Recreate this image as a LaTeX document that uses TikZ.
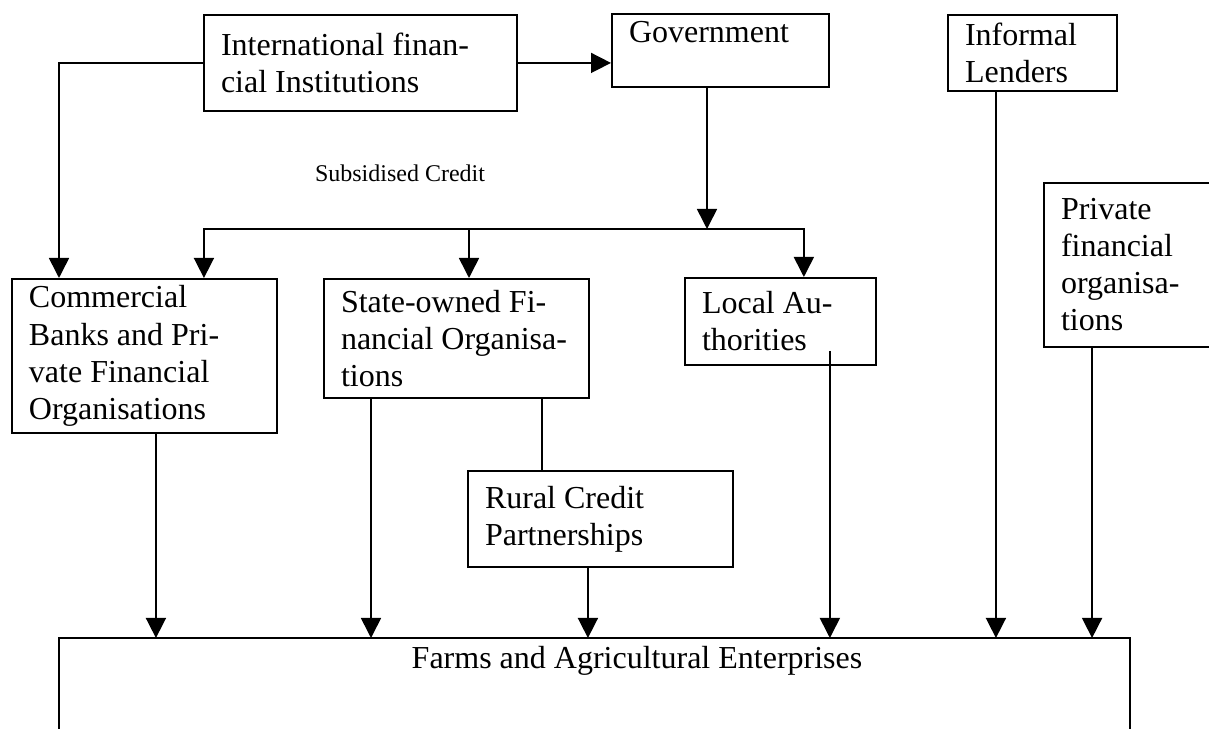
\documentclass[tikz,border=0pt]{standalone}
\usepackage{fontspec}
\setmainfont{Liberation Serif}
\usetikzlibrary{arrows.meta}
\tikzset{>={Triangle[length=7.5pt,width=7.5pt]}}
\tikzset{
  org/.style={draw, line width=0.7pt, anchor=north west, align=flush left,
    inner xsep=6.4pt, inner ysep=0pt,
    font=\fontsize{12}{13.9}\selectfont},
  flow/.style={->, line width=0.6pt},
  link/.style={line width=0.6pt}
}

\begin{document}
\begin{tikzpicture}[x=0.375pt,y=-0.375pt]
  \useasboundingbox (0,0) rectangle (1209,729);
  \node[org,text width=104.6pt,minimum height=36pt] (intl) at (203,14)
    {International finan-\\cial Institutions};
  \node[org,text width=68.6pt,minimum height=27.4pt] (gov) at (611,13)
    {Government\\\mbox{}};
  \node[org,text width=50.6pt,minimum height=28.5pt] (inform) at (947,14)
    {Informal\\Lenders};
  \node[org,text width=54.7pt,minimum height=61.5pt] (priv) at (1043,182)
    {Private\\financial\\organisa-\\tions};
  \node[org,text width=86.6pt,minimum height=57.75pt] (comm) at (11,278)
    {Commercial\\Banks and Pri-\\vate Financial\\Organisations};
  \node[org,text width=86.6pt,minimum height=44.6pt] (state) at (323,278)
    {State-owned Fi-\\nancial Organisa-\\tions};
  \node[org,text width=58.8pt,minimum height=32.6pt] (local) at (684,277)
    {Local Au-\\thorities};
  \node[org,text width=86.6pt,minimum height=36pt] (rural) at (467,470)
    {Rural Credit\\Partnerships};
  \node[font=\fontsize{12}{13.9}\selectfont] (farms) at (637,661)
    {Farms and Agricultural Enterprises};
  \node[font=\fontsize{9}{10.5}\selectfont] (subsid) at (400,173) {Subsidised Credit};

  \coordinate (split) at (707,229);
  \coordinate (fnw) at (59,638);
  \coordinate (fne) at (1130,638);
  \draw[line width=0.7pt] (fnw) ++(0,120) -- (fnw) -- (fne) -- ++(0,120);

  \draw[flow] (intl.east) -- (intl.east -| gov.west);
  \draw[flow] (intl.west) -| ([xshift=18pt]comm.north west);
  \draw[flow] (gov.south -| split) -- (split);
  \draw[flow] (split) -| ([xshift=22.3pt]comm.north);
  \draw[flow] (split) -| ([xshift=8.8pt]local.north);
  \draw[flow] ([xshift=4.7pt]state.north |- split) -- ([xshift=4.7pt]state.north);

  \draw[flow] ([xshift=4.3pt]comm.south) -- ([xshift=4.3pt]comm.south |- fnw);
  \draw[flow] ([xshift=18pt]state.south west) -- ([xshift=18pt]state.south west |- fnw);
  \draw[link] ([xshift=-18pt]state.south east) -- ([xshift=-18pt]state.south east |- rural.north);
  \draw[flow] ([xshift=-4.7pt]rural.south) -- ([xshift=-4.7pt]rural.south |- fnw);
  \draw[flow] ([xshift=-17.6pt,yshift=5.6pt]local.south east) -- ([xshift=-17.6pt]local.south east |- fnw);
  \draw[flow] ([xshift=-13.7pt]inform.south) -- ([xshift=-13.7pt]inform.south |- fnw);
  \draw[flow] ([xshift=18.4pt]priv.south west) -- ([xshift=18.4pt]priv.south west |- fnw);
\end{tikzpicture}
\end{document}
